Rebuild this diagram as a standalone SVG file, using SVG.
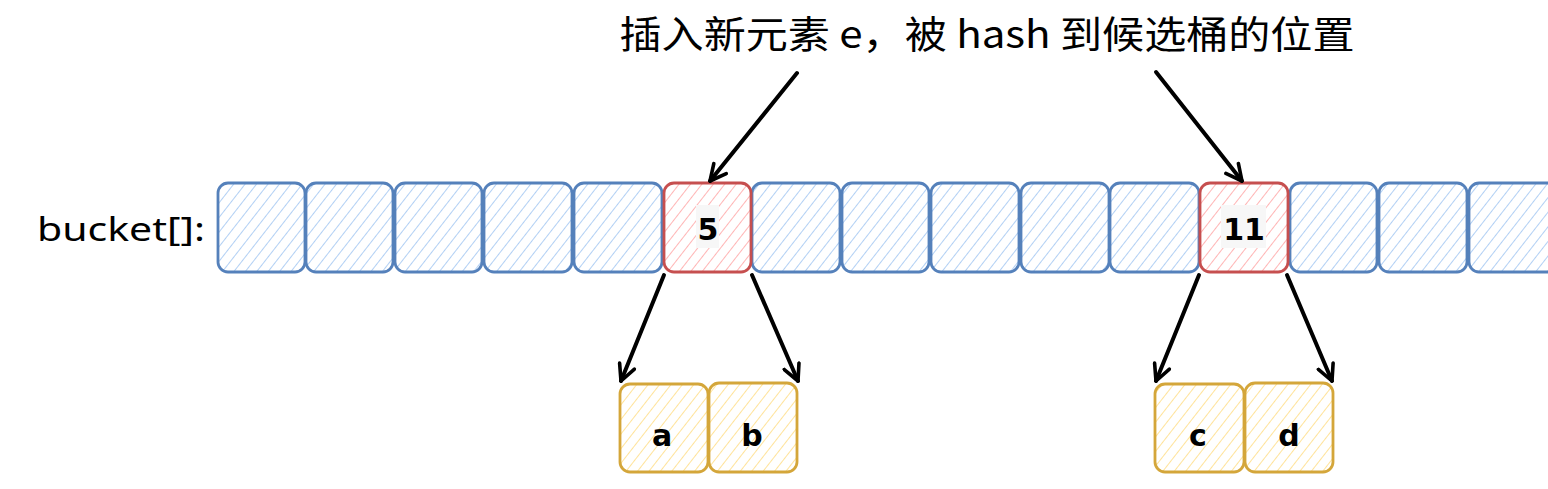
<svg xmlns="http://www.w3.org/2000/svg" width="1548" height="489" viewBox="0 0 1548 489">
<defs>
<pattern id="hb" patternUnits="userSpaceOnUse" width="9" height="9" patternTransform="rotate(38)"><line x1="0" y1="0" x2="0" y2="9" stroke="#a9cbf3" stroke-width="1.8"/></pattern>
<pattern id="hr" patternUnits="userSpaceOnUse" width="9" height="9" patternTransform="rotate(38)"><line x1="0" y1="0" x2="0" y2="9" stroke="#ffadad" stroke-width="1.8"/></pattern>
<pattern id="hy" patternUnits="userSpaceOnUse" width="9" height="9" patternTransform="rotate(38)"><line x1="0" y1="0" x2="0" y2="9" stroke="#ffe08f" stroke-width="1.8"/></pattern>
<marker id="ah" viewBox="0 0 20 20" refX="18" refY="10" markerWidth="20" markerHeight="20" markerUnits="userSpaceOnUse" orient="auto"><polyline points="2,2 18,10 2,18" fill="none" stroke="#000" stroke-width="3.6" stroke-linecap="round" stroke-linejoin="round"/></marker>
</defs>
<style>
.b{fill:url(#hb);stroke:#5581bb;stroke-width:2.8}
.r{fill:url(#hr);stroke:#c64f4f;stroke-width:2.8}
.y{fill:url(#hy);stroke:#d4a63a;stroke-width:2.8}
.lbl{fill:#f7f7f7}
.c{stroke:#000;stroke-width:4;fill:none;stroke-linecap:round;marker-end:url(#ah)}
</style>
<rect width="1548" height="489" fill="#fff"/>
<text id="title" x="987" y="48" font-family="Noto Sans CJK SC, Noto Sans, sans-serif" font-size="38" font-weight="normal" text-anchor="middle" textLength="735" lengthAdjust="spacingAndGlyphs" fill="#000">插入新元素 e，被 hash 到候选桶的位置</text>
<text id="bucket-label" x="37" y="241" font-family="Noto Sans, Liberation Sans, sans-serif" font-size="33" font-weight="normal" textLength="168" lengthAdjust="spacingAndGlyphs" fill="#000">bucket[]:</text>
<g id="bucket">
<g id="b0"><rect class="b" x="218" y="183" width="87" height="89" rx="10"/></g>
<g id="b1"><rect class="b" x="306" y="183" width="87" height="89" rx="10"/></g>
<g id="b2"><rect class="b" x="395" y="183" width="87" height="89" rx="10"/></g>
<g id="b3"><rect class="b" x="484" y="183" width="88" height="89" rx="10"/></g>
<g id="b4"><rect class="b" x="574" y="183" width="88" height="89" rx="10"/></g>
<g id="b6"><rect class="b" x="752" y="183" width="88" height="89" rx="10"/></g>
<g id="b7"><rect class="b" x="842" y="183" width="87" height="89" rx="10"/></g>
<g id="b8"><rect class="b" x="931" y="183" width="88" height="89" rx="10"/></g>
<g id="b9"><rect class="b" x="1021" y="183" width="88" height="89" rx="10"/></g>
<g id="b10"><rect class="b" x="1110" y="183" width="89" height="89" rx="10"/></g>
<g id="b12"><rect class="b" x="1290" y="183" width="87" height="89" rx="10"/></g>
<g id="b13"><rect class="b" x="1379" y="183" width="88" height="89" rx="10"/></g>
<g id="b14"><rect class="b" x="1469" y="183" width="100" height="89" rx="10"/></g>
<g id="b5"><rect class="r" x="664" y="183" width="87" height="89" rx="10"/><rect class="lbl" x="696" y="205" width="23" height="43"/><text x="708" y="240" font-family="DejaVu Sans, sans-serif" font-weight="bold" font-size="30" text-anchor="middle" fill="#000">5</text></g>
<g id="b11"><rect class="r" x="1200" y="183" width="88" height="89" rx="10"/><rect class="lbl" x="1221" y="205" width="45" height="43"/><text x="1244" y="240" font-family="DejaVu Sans, sans-serif" font-weight="bold" font-size="30" text-anchor="middle" fill="#000">11</text></g>
</g>
<g id="a"><rect class="y" x="620" y="384" width="88" height="88" rx="10"/><text x="662" y="446" font-family="DejaVu Sans, sans-serif" font-weight="bold" font-size="30" text-anchor="middle" fill="#000">a</text></g>
<g id="b"><rect class="y" x="709" y="383" width="88" height="89" rx="10"/><text x="752" y="446" font-family="DejaVu Sans, sans-serif" font-weight="bold" font-size="30" text-anchor="middle" fill="#000">b</text></g>
<g id="c"><rect class="y" x="1155" y="384" width="89" height="88" rx="10"/><text x="1198" y="446" font-family="DejaVu Sans, sans-serif" font-weight="bold" font-size="30" text-anchor="middle" fill="#000">c</text></g>
<g id="d"><rect class="y" x="1245" y="383" width="88" height="89" rx="10"/><text x="1289" y="446" font-family="DejaVu Sans, sans-serif" font-weight="bold" font-size="30" text-anchor="middle" fill="#000">d</text></g>
<g id="connectors">
<line class="c" x1="797" y1="73" x2="710" y2="181"/>
<line class="c" x1="1156" y1="72" x2="1242" y2="181"/>
<line class="c" x1="664" y1="275" x2="621" y2="381"/>
<line class="c" x1="752" y1="275" x2="798" y2="381"/>
<line class="c" x1="1199" y1="275" x2="1156" y2="381"/>
<line class="c" x1="1287" y1="275" x2="1332" y2="381"/>
</g>
</svg>
